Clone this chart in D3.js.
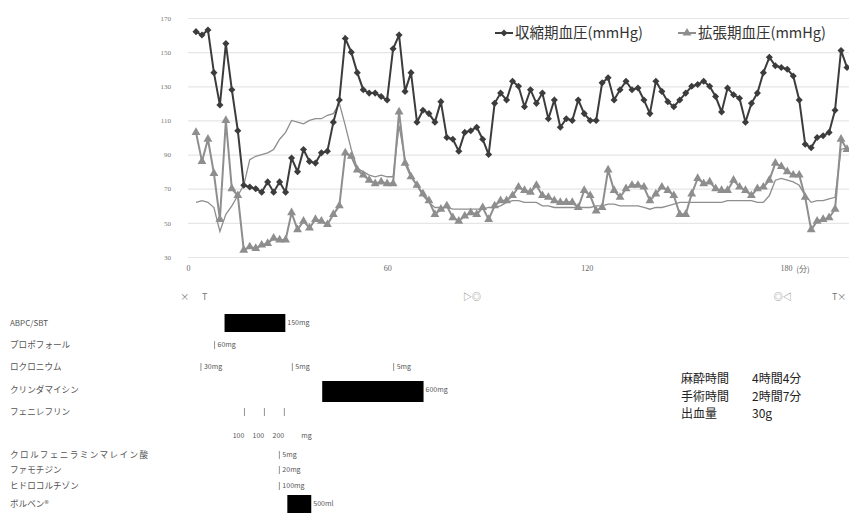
<!DOCTYPE html>
<html>
<head>
<meta charset="utf-8">
<script src="https://cdn.jsdelivr.net/npm/d3@7"></script>
<style>
  body { margin: 0; background: #fff; }
  svg { display: block; font-family: "Noto Sans CJK JP", "Noto Sans", sans-serif; }
</style>
</head>
<body>
<div id="chart"></div>
<script>
(function(){

  // systolic / diastolic blood pressure and the unlabelled thin line, one reading per sample
  const sbp = [162,160,163,138,119,155,128,104,72,71,70,68,74,68,74,68,88,80,93,86,85,91,92,109,122,158,150,138,128,126,
               126,124,122,152,160,127,138,109,116,114,109,121,100,99,92,103,104,106,99,90,120,126,122,133,130,118,128,120,126,111,
               122,106,111,110,122,114,110,110,132,135,122,128,133,128,129,122,114,133,127,121,118,122,126,130,131,133,130,124,115,129,
               125,123,109,120,126,138,147,142,141,140,136,122,96,94,100,101,103,116,151,141];
  const dbp = [103,86,99,79,52,110,70,66,34,36,35,37,38,41,40,40,56,46,51,47,52,51,49,55,60,91,89,81,78,75,
               73,74,73,73,115,85,77,72,67,63,55,58,60,53,51,54,56,55,59,52,60,63,63,66,71,69,68,72,66,65,
               63,62,62,62,59,69,66,57,59,81,69,65,70,72,72,71,63,67,71,69,66,55,55,67,76,73,74,70,69,69,
               75,71,69,66,70,71,75,85,83,80,78,78,65,46,51,52,53,58,99,93];
  const hr  = [62,63,62,59,45,55,60,66,72,87,89,90,91,93,99,103,110,109,108,110,111,111,113,114,120,107,93,82,80,78,
               77,78,77,77,107,87,78,72,66,62,59,59,59,58,58,58,58,58,58,59,59,60,62,63,63,62,62,62,60,60,
               59,59,59,59,59,59,59,60,60,61,61,60,60,60,60,59,58,59,59,60,61,62,62,62,62,62,62,62,62,63,
               63,63,63,63,62,62,66,75,76,75,74,72,66,62,63,63,64,65,93,94];

  const yTicks = [30, 50, 70, 90, 110, 130, 150, 170];
  const xTicks = [0, 60, 120, 180];
  const xUnit = "(分)";
  const legendLabels = ["収縮期血圧(mmHg)", "拡張期血圧(mmHg)"];

  // anesthesia event marks (minutes)
  const eventTimes = [-1, 5, 85.5, 179, 196];
  const eventMarks = ["×", "T", "▷◎", "◎◁", "T×"];

  // drugs
  const drugNames = ["ABPC/SBT", "プロポフォール", "ロクロニウム", "クリンダマイシン", "フェニレフリン",
                     "クロルフェニラミンマレイン酸", "ファモチジン", "ヒドロコルチゾン", "ボルベン®"];
  const infusions = [
    { drug: 0, start: 11, end: 29.3, dose: "150mg" },
    { drug: 3, start: 40.4, end: 70.9, dose: "600mg" },
    { drug: 8, start: 29.9, end: 37.1, dose: "500ml" }
  ];
  const boluses = [
    { drug: 1, t: 8, dose: "60mg" },
    { drug: 2, t: 3.9, dose: "30mg" },
    { drug: 2, t: 31.4, dose: "5mg" },
    { drug: 2, t: 61.9, dose: "5mg" },
    { drug: 5, t: 27.5, dose: "5mg" },
    { drug: 6, t: 27.5, dose: "20mg" },
    { drug: 7, t: 27.5, dose: "100mg" }
  ];
  const pheTimes = [17, 23, 29];
  const pheDoses = ["100", "100", "200"];
  const pheUnit = "mg";

  const summaryLabels = ["麻酔時間", "手術時間", "出血量"];
  const summaryValues = ["4時間4分", "2時間7分", "30g"];

  // layout
  const width = 849, height = 527;
  const plot = { left: 188, right: 849, top: 18, bottom: 257 };
  const rowY = [323, 345, 367, 390, 412, 455, 470, 486, 504];
  const doseRowY = 436;
  const ink = "#3c3c3c", grey = "#8e8e8e";

  const svg = d3.select("#chart").append("svg")
      .attr("width", width)
      .attr("height", height);

  const y = d3.scaleLinear().domain([30, 170]).range([plot.bottom, plot.top]);
  const xi = d3.scaleLinear().domain([0, sbp.length - 1]).range([196, 847]);
  const xt = d3.scaleLinear().domain([0, 180]).range([188, 786]);

  // gridlines + y labels
  const yAxis = svg.append("g")
      .attr("transform", `translate(${plot.left},0)`)
      .call(d3.axisLeft(y).tickValues(yTicks).tickSize(-(plot.right - plot.left)).tickPadding(17));
  yAxis.select(".domain").remove();
  yAxis.selectAll("line").attr("stroke", "#e6e6e6").attr("stroke-width", 1.2);
  yAxis.selectAll("text").attr("fill", "#777").style("font-size", "7px")
      .style("font-family", "'Liberation Serif', serif");

  // x labels
  const xAxis = svg.append("g")
      .attr("transform", `translate(0,${plot.bottom})`)
      .call(d3.axisBottom(xt).tickValues(xTicks).tickSize(0).tickPadding(8));
  xAxis.select(".domain").remove();
  xAxis.selectAll("text").attr("fill", "#666").style("font-size", "8px")
      .style("font-family", "'Liberation Serif', serif");
  svg.append("text")
      .attr("x", 803).attr("y", 272)
      .attr("text-anchor", "middle")
      .attr("fill", "#666").style("font-size", "8px")
      .text(xUnit);

  // thin line
  const line = d3.line().x((d, i) => xi(i)).y(d => y(d));
  svg.append("path").datum(hr)
      .attr("fill", "none").attr("stroke", grey).attr("stroke-width", 1.3)
      .attr("d", line);

  // diastolic
  svg.append("path").datum(dbp)
      .attr("fill", "none").attr("stroke", grey).attr("stroke-width", 2)
      .attr("d", line);
  svg.append("g").selectAll("path")
      .data(dbp).join("path")
      .attr("transform", (d, i) => `translate(${xi(i)},${y(d)})`)
      .attr("d", d3.symbol(d3.symbolTriangle, 34))
      .attr("fill", grey);

  // systolic
  svg.append("path").datum(sbp)
      .attr("fill", "none").attr("stroke", ink).attr("stroke-width", 2)
      .attr("d", line);
  svg.append("g").selectAll("path")
      .data(sbp).join("path")
      .attr("transform", (d, i) => `translate(${xi(i)},${y(d)}) rotate(45)`)
      .attr("d", d3.symbol(d3.symbolSquare, 25))
      .attr("fill", ink);

  // legend
  const legend = svg.append("g").style("font-size", "14.5px").attr("fill", "#333");
  const legendX = [495, 678];
  legendLabels.forEach((label, k) => {
    const g = legend.append("g").attr("transform", `translate(${legendX[k]},33)`);
    g.append("line").attr("x1", 0).attr("x2", 18)
        .attr("stroke", k ? grey : ink).attr("stroke-width", 2);
    g.append("path")
        .attr("transform", k ? "translate(9,0)" : "translate(9,0) rotate(45)")
        .attr("d", d3.symbol(k ? d3.symbolTriangle : d3.symbolSquare, k ? 34 : 25))
        .attr("fill", k ? grey : ink);
    g.append("text").attr("x", 20).attr("dy", "0.35em").text(label);
  });

  // event marks
  svg.append("g").selectAll("text")
      .data(eventMarks).join("text")
      .attr("x", (d, i) => xt(eventTimes[i]))
      .attr("y", 297)
      .attr("dy", "0.35em")
      .attr("text-anchor", "middle")
      .attr("fill", "#777")
      .style("font-size", "9px")
      .text(d => d);

  // drug names
  const drugs = svg.append("g").style("font-size", "9px").attr("fill", "#555");
  drugs.selectAll("text.name")
      .data(drugNames).join("text")
      .attr("class", "name")
      .attr("x", 10)
      .attr("y", (d, i) => rowY[i])
      .attr("dy", "0.35em")
      .style("font-size", (d, i) => i === 0 ? "8px" : "8.6px")
      .attr("textLength", (d, i) => i === 5 ? 138 : null)
      .text(d => d);

  // infusion bars
  drugs.selectAll("rect")
      .data(infusions).join("rect")
      .attr("x", d => xt(d.start))
      .attr("width", d => xt(d.end) - xt(d.start))
      .attr("y", d => rowY[d.drug] - 9)
      .attr("height", d => d.drug === 3 ? 21 : 18)
      .attr("fill", "#000");
  drugs.selectAll("text.inf")
      .data(infusions).join("text")
      .attr("class", "inf")
      .attr("x", d => xt(d.end) + 2)
      .attr("y", d => rowY[d.drug])
      .attr("dy", "0.35em")
      .style("font-size", "7px")
      .text(d => d.dose);

  // bolus marks: small tick then dose
  const tick = (sel, x, yy) => sel.append("line")
      .attr("x1", x).attr("x2", x).attr("y1", yy - 4).attr("y2", yy + 4)
      .attr("stroke", "#777").attr("stroke-width", 0.8);
  boluses.forEach(b => {
    tick(drugs, xt(b.t), rowY[b.drug]);
    drugs.append("text")
        .attr("x", xt(b.t) + 3)
        .attr("y", rowY[b.drug])
        .attr("dy", "0.35em")
        .style("font-size", "7px")
        .text(b.dose);
  });

  // phenylephrine
  pheTimes.forEach(t => tick(drugs, xt(t), rowY[4]));
  drugs.selectAll("text.phed")
      .data(pheDoses).join("text")
      .attr("class", "phed")
      .attr("x", (d, i) => xt(pheTimes[i]) - 6)
      .attr("y", doseRowY)
      .attr("dy", "0.35em")
      .attr("text-anchor", "middle")
      .style("font-size", "7px")
      .text(d => d);
  drugs.append("text")
      .attr("x", xt(pheTimes[2]) + 17)
      .attr("y", doseRowY)
      .attr("dy", "0.35em")
      .style("font-size", "7px")
      .text(pheUnit);

  // summary
  const summary = svg.append("g").style("font-size", "12px").attr("fill", "#222");
  summaryLabels.forEach((label, i) => {
    summary.append("text").attr("x", 681).attr("y", 379 + i * 17.5).attr("dy", "0.35em").text(label);
    summary.append("text").attr("x", 752).attr("y", 379 + i * 17.5).attr("dy", "0.35em").text(summaryValues[i]);
  });

})();
</script>
</body>
</html>
